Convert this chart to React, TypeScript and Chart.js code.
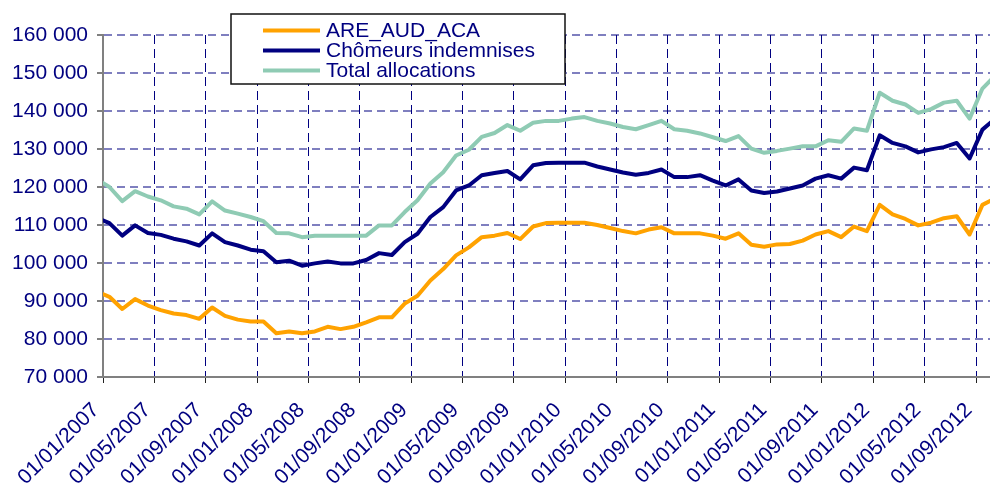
import React, { useEffect, useRef } from 'react';
import { Chart, registerables } from 'chart.js';

Chart.register(...registerables);

// Monthly observations (dated mid-month), MM/YYYY
const months = [
  '12/2006',
  '01/2007', '02/2007', '03/2007', '04/2007', '05/2007', '06/2007', '07/2007', '08/2007', '09/2007', '10/2007', '11/2007', '12/2007',
  '01/2008', '02/2008', '03/2008', '04/2008', '05/2008', '06/2008', '07/2008', '08/2008', '09/2008', '10/2008', '11/2008', '12/2008',
  '01/2009', '02/2009', '03/2009', '04/2009', '05/2009', '06/2009', '07/2009', '08/2009', '09/2009', '10/2009', '11/2009', '12/2009',
  '01/2010', '02/2010', '03/2010', '04/2010', '05/2010', '06/2010', '07/2010', '08/2010', '09/2010', '10/2010', '11/2010', '12/2010',
  '01/2011', '02/2011', '03/2011', '04/2011', '05/2011', '06/2011', '07/2011', '08/2011', '09/2011', '10/2011', '11/2011', '12/2011',
  '01/2012', '02/2012', '03/2012', '04/2012', '05/2012', '06/2012', '07/2012', '08/2012', '09/2012', '10/2012',
];

const areAudAca = [
  92500,
  91100, 87900, 90500, 88800, 87600, 86700, 86300, 85300, 88300, 86100, 85100, 84600,
  84600, 81500, 82000, 81500, 82000, 83200, 82600, 83200, 84400, 85700, 85700, 89300,
  91400, 95400, 98400, 102000, 104100, 106800, 107200, 107900, 106300, 109600, 110500, 110600,
  110600, 110600, 110000, 109200, 108400, 107800, 108800, 109400, 107800, 107800, 107800, 107200,
  106400, 107800, 104800, 104300, 104900, 105000, 105900, 107500, 108400, 106800, 109600, 108400,
  115300, 112800, 111600, 109900, 110600, 111800, 112300, 107500, 115300, 117000,
];

const chomeursIndemnises = [
  111900,
  110500, 107200, 109900, 107900, 107400, 106400, 105700, 104600, 107800, 105500, 104600, 103500,
  103100, 100200, 100600, 99300, 99900, 100400, 99900, 99900, 100800, 102600, 102100, 105500,
  107700, 112100, 114700, 119100, 120400, 123100, 123700, 124200, 122000, 125700, 126300, 126400,
  126400, 126400, 125400, 124600, 123800, 123200, 123700, 124600, 122600, 122600, 123100, 121700,
  120400, 122000, 119100, 118400, 118800, 119600, 120400, 122200, 123100, 122200, 125100, 124400,
  133600, 131600, 130700, 129100, 129900, 130500, 131600, 127500, 135100, 138000,
];

const totalAllocations = [
  122100,
  120000, 116300, 118900, 117500, 116500, 114900, 114300, 112800, 116200, 113800, 113000, 112100,
  111000, 107900, 107800, 106800, 107200, 107200, 107200, 107200, 107200, 109900, 109900, 113400,
  116500, 120900, 123900, 128300, 129800, 133200, 134200, 136300, 134800, 136900, 137400, 137400,
  138000, 138400, 137400, 136700, 135800, 135200, 136300, 137400, 135200, 134800, 134100, 133100,
  132100, 133400, 130100, 129000, 129500, 130100, 130700, 130700, 132300, 131900, 135400, 134800,
  144800, 142700, 141700, 139500, 140500, 142200, 142700, 138000, 145900, 149300,
];

const seriesNames = ['ARE_AUD_ACA', 'Chômeurs indemnises', 'Total allocations'];
const seriesColors = ['#FFA200', '#000080', '#8FCBB4'];

const tickLabels = [
  '01/01/2007', '01/05/2007', '01/09/2007',
  '01/01/2008', '01/05/2008', '01/09/2008',
  '01/01/2009', '01/05/2009', '01/09/2009',
  '01/01/2010', '01/05/2010', '01/09/2010',
  '01/01/2011', '01/05/2011', '01/09/2011',
  '01/01/2012', '01/05/2012', '01/09/2012',
];

const FONT = '"Liberation Sans", Arial, sans-serif';

// months since 01/01/2007, observation dated mid-month
const monthPos = (label: string) => {
  const [mm, yyyy] = label.split('/').map(Number);
  return (yyyy - 2007) * 12 + (mm - 1) + 0.5;
};

const toPoints = (vals: number[]) => vals.map((v, i) => ({ x: monthPos(months[i]), y: v }));

const legendPlugin = {
  id: 'boxLegend',
  afterDraw(chart: any) {
    const ctx = chart.ctx as CanvasRenderingContext2D;
    ctx.save();
    const L = 231, T = 14, R = 565, B = 84;
    ctx.fillStyle = '#ffffff';
    ctx.fillRect(L, T, R - L, B - T);
    ctx.strokeStyle = '#111111';
    ctx.lineWidth = 1.5;
    ctx.strokeRect(L, T, R - L, B - T);
    chart.data.datasets.forEach((ds: any, i: number) => {
      const cy = 30.5 + i * 20;
      ctx.strokeStyle = ds.borderColor;
      ctx.lineWidth = 4;
      ctx.lineCap = 'butt';
      ctx.beginPath();
      ctx.moveTo(263, cy);
      ctx.lineTo(320, cy);
      ctx.stroke();
      ctx.fillStyle = '#000080';
      ctx.font = `21px ${FONT}`;
      ctx.textBaseline = 'alphabetic';
      ctx.textAlign = 'left';
      ctx.fillText(ds.label, 326, 36.7 + i * 20);
    });
    ctx.restore();
  },
};

export default function App() {
  const canvasRef = useRef<HTMLCanvasElement | null>(null);

  useEffect(() => {
    document.body.style.margin = '0';
    const canvas = canvasRef.current;
    if (!canvas) return;
    const allSeries = [areAudAca, chomeursIndemnises, totalAllocations];
    const chart = new Chart(canvas, {
      type: 'line',
      data: {
        datasets: allSeries.map((vals, i) => ({
          label: seriesNames[i],
          data: toPoints(vals),
          borderColor: seriesColors[i],
          backgroundColor: seriesColors[i],
          borderWidth: 4,
          pointRadius: 0,
          tension: 0,
          fill: false,
          borderJoinStyle: 'round' as const,
          borderCapStyle: 'round' as const,
          clip: { left: 0, right: 0, top: 10, bottom: 10 } as any,
        })),
      },
      options: {
        responsive: false,
        animation: false,
        devicePixelRatio: 1,
        layout: { padding: { top: 35, right: 0, left: 0, bottom: 0 } },
        plugins: { legend: { display: false }, tooltip: { enabled: false } },
        scales: {
          x: {
            type: 'linear',
            min: 0,
            max: 69.09,
            afterBuildTicks: (s: any) => {
              s.ticks = tickLabels.map((_, k) => ({ value: k * 4 }));
            },
            afterFit: (s: any) => {
              s.height = 110;
              s.paddingLeft = 0;
              s.paddingRight = 0;
            },
            ticks: {
              autoSkip: false,
              maxRotation: 45,
              minRotation: 45,
              color: '#000080',
              font: { family: FONT, size: 21 },
              padding: 15,
              labelOffset: -7,
              callback: (v: any) => tickLabels[Math.round(Number(v) / 4)] ?? '',
            },
            grid: {
              color: '#000080',
              lineWidth: 1,
              tickLength: 6,
              tickColor: '#222222',
              tickBorderDash: [],
            } as any,
            border: { color: '#808080', width: 2, dash: [9, 5] },
          },
          y: {
            min: 70000,
            max: 160000,
            afterFit: (s: any) => {
              s.width = 103;
            },
            ticks: {
              stepSize: 10000,
              color: '#000080',
              font: { family: FONT, size: 21 },
              padding: 9,
              callback: (v: any) => `${Math.round(Number(v) / 1000)} 000`,
            },
            grid: {
              color: 'rgba(0,0,128,0.5)',
              lineWidth: 2,
              tickLength: 6,
              tickColor: '#808080',
              tickBorderDash: [],
            } as any,
            border: { color: '#808080', width: 2, dash: [8, 5] },
          },
        },
      },
      plugins: [legendPlugin],
    });
    return () => chart.destroy();
  }, []);

  return (
    <div style={{ width: 990, height: 487 }}>
      <canvas ref={canvasRef} width={990} height={487} style={{ display: 'block' }} />
    </div>
  );
}
